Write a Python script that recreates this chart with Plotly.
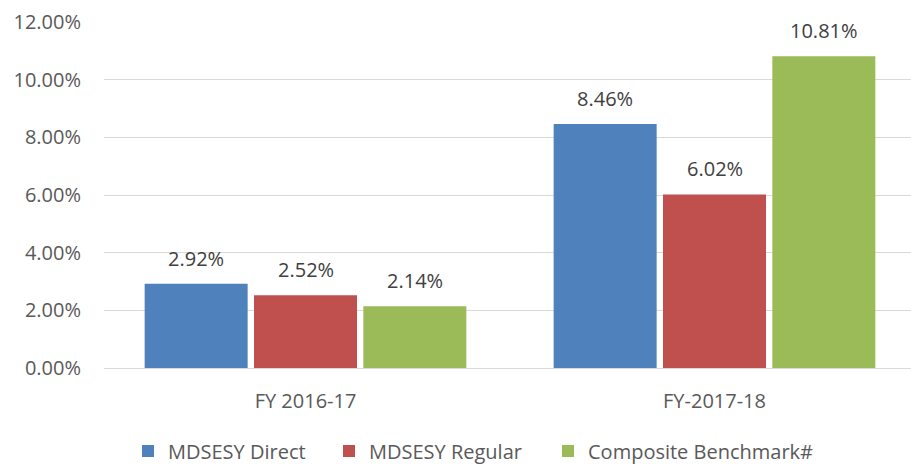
import plotly.graph_objects as go

categories = ["FY 2016-17", "FY-2017-18"]
series_names = ["MDSESY Direct", "MDSESY Regular", "Composite Benchmark#"]
direct = [0.0292, 0.0846]
regular = [0.0252, 0.0602]
benchmark = [0.0214, 0.1081]
y_ticks = [0, 0.02, 0.04, 0.06, 0.08, 0.10, 0.12]

series_values = [direct, regular, benchmark]
colors = ["#4F81BD", "#C0504D", "#9BBB59"]

FONT = "Open Sans"
BARGAP = 0.198
GROUPGAP = 0.058
legend_ids = ["legend", "legend2", "legend3"]
legend_left_px = [128, 329, 548]

fig = go.Figure()
for name, vals, col, lid in zip(series_names, series_values, colors, legend_ids):
    fig.add_trace(go.Bar(x=categories, y=vals, name=name, marker_color=col,
                         marker_line_width=0, legend=lid, showlegend=True))

slot = (1 - BARGAP) / 3
annotations = []
for i, vals in enumerate(series_values):
    for j, v in enumerate(vals):
        annotations.append(dict(
            x=j + (i - 1) * slot, y=v, xref="x", yref="y",
            text=f"{v*100:.2f}%", showarrow=False, yanchor="bottom",
            yshift=10, font=dict(family=FONT, size=20, color="#404040")))

legend_common = dict(orientation="h", xanchor="left", yanchor="middle",
                     y=(368 - 451) / 346,
                     font=dict(family=FONT, size=20, color="#595959"))

x0 = -0.5 + 3.0 / 409
fig.update_layout(
    width=911, height=465,
    margin=dict(l=104, r=0, t=22, b=97, autoexpand=False),
    paper_bgcolor="white", plot_bgcolor="white",
    showlegend=True,
    barmode="group", bargap=BARGAP, bargroupgap=GROUPGAP,
    font=dict(family=FONT, size=20, color="#595959"),
    annotations=annotations,
    legend=dict(x=(legend_left_px[0] - 104) / 807, **legend_common),
    legend2=dict(x=(legend_left_px[1] - 104) / 807, **legend_common),
    legend3=dict(x=(legend_left_px[2] - 104) / 807, **legend_common),
)
fig.update_xaxes(range=[x0, x0 + 807 / 409], showgrid=False, showline=False,
                 zeroline=False, ticks="", ticklabelstandoff=19, automargin=False,
                 tickfont=dict(family=FONT, size=20, color="#595959"))
fig.update_yaxes(range=[0, 0.12], tickvals=y_ticks, tickformat=".2%",
                 showgrid=True, gridcolor="#D9D9D9", gridwidth=1,
                 zeroline=True, zerolinecolor="#D9D9D9", zerolinewidth=1,
                 showline=False, ticks="", ticklabelstandoff=22, automargin=False,
                 tickfont=dict(family=FONT, size=20, color="#595959"))

fig.write_html("out.html", config={"displayModeBar": False},
               post_script="document.body.style.margin='0';document.body.style.overflow='hidden';")
